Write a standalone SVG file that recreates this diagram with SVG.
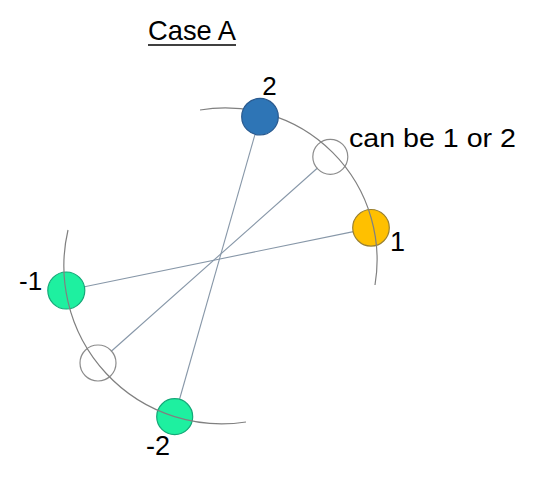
<svg xmlns="http://www.w3.org/2000/svg" width="540" height="485" viewBox="0 0 540 485">
<style>
.t{font-family:"Liberation Sans",Arial,sans-serif;fill:#000}
.arc{fill:none;stroke:#808080;stroke-width:1.2}
.ln{stroke:#8797a8;stroke-width:1.1;fill:none}
.w{fill:none;stroke:#8c8c8c;stroke-width:1.2}
.g{fill:#1ef0a0;stroke:#14a878;stroke-width:1.2}
</style>
<rect width="540" height="485" fill="#fff"/>
<g id="title">
<text class="t" x="148" y="40" font-size="28" textLength="88" lengthAdjust="spacingAndGlyphs">Case A</text>
<line x1="148" y1="45" x2="236" y2="45" stroke="#000" stroke-width="1.5"/>
</g>
<g id="connectors">
<line class="ln" x1="255" y1="134.3" x2="179.6" y2="399"/>
<line class="ln" x1="353.4" y1="231.6" x2="84.5" y2="286.8"/>
<line class="ln" x1="317.5" y1="168" x2="111" y2="351.5"/>
</g>
<g id="node-can-be">
<circle class="w" cx="330.3" cy="156.8" r="17.5"/>
<text class="t" x="349" y="147" font-size="26" textLength="167" lengthAdjust="spacingAndGlyphs">can be 1 or 2</text>
</g>
<g id="node-1">
<circle cx="371" cy="227.8" r="18.3" fill="#ffc000" stroke="#9a8030" stroke-width="1.2"/>
<text class="t" x="390" y="251" font-size="27">1</text>
</g>
<g id="node-m1">
<circle class="g" cx="66.3" cy="290.5" r="18.5"/>
<text class="t" x="19" y="290" font-size="26">-1</text>
</g>
<g id="node-blank">
<circle class="w" cx="98" cy="363" r="18"/>
</g>
<g id="node-m2">
<circle class="g" cx="174.7" cy="416.7" r="18"/>
<text class="t" x="146" y="455" font-size="27">-2</text>
</g>
<g id="arcs">
<path class="arc" d="M200,110 A152,152 0 0 1 375,285"/>
<path class="arc" d="M68,230 A158,158 0 0 0 246,422"/>
</g>
<g id="node-2">
<circle cx="260" cy="116.7" r="18.3" fill="#2e75b6" stroke="#2a5a8f" stroke-width="1.2"/>
<text class="t" x="269.5" y="95" font-size="26" text-anchor="middle">2</text>
</g>
</svg>
